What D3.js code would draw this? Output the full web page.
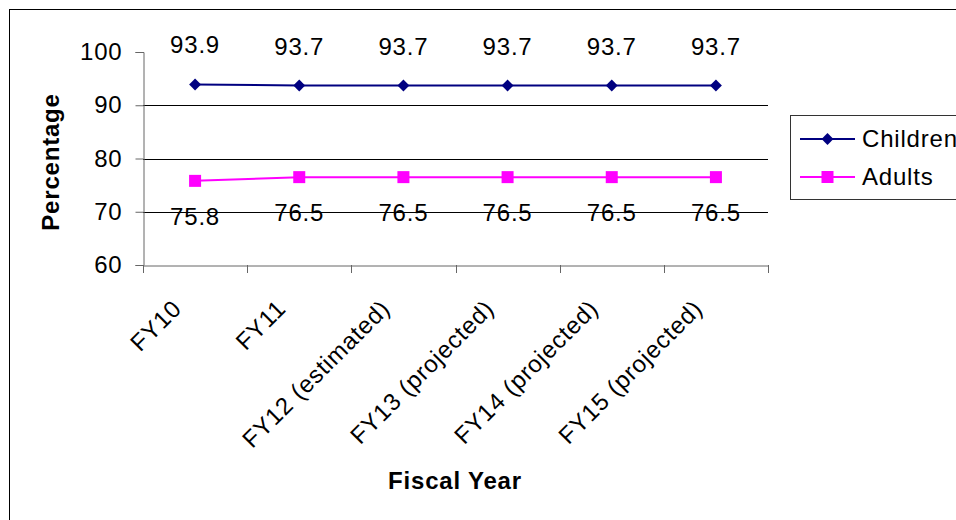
<!DOCTYPE html>
<html>
<head>
<meta charset="utf-8">
<script src="https://cdn.jsdelivr.net/npm/d3@7"></script>
<style>
  body { margin: 0; background: #fff; }
  text { font-family: "Liberation Sans", Arial, sans-serif; fill: #000; letter-spacing: 0.8px; }
</style>
</head>
<body>
<svg id="chart" width="956" height="520"></svg>
<script>
const years = ["FY10", "FY11", "FY12 (estimated)", "FY13 (projected)", "FY14 (projected)", "FY15 (projected)"]
const children = [93.9, 93.7, 93.7, 93.7, 93.7, 93.7]
const adults = [75.8, 76.5, 76.5, 76.5, 76.5, 76.5]
const yTicks = [60, 70, 80, 90, 100]
const seriesNames = ["Children", "Adults"]

const svg = d3.select('#chart')

// outer frame (runs off the right and bottom edges)
svg.append('rect')
    .attr('x', 9.5).attr('y', 9.5)
    .attr('width', 980).attr('height', 540)
    .attr('fill', 'none').attr('stroke', '#000').attr('stroke-width', 1)

const x = d3.scaleBand().domain(years).range([143, 768])
const y = d3.scaleLinear().domain([60, 100]).range([265, 52])

// gridlines
svg.append('g')
    .selectAll('line')
    .data(yTicks.filter(t => t > 60 && t < 100))
    .join('line')
    .attr('x1', 143).attr('x2', 768)
    .attr('y1', d => Math.round(y(d)) + 0.5).attr('y2', d => Math.round(y(d)) + 0.5)
    .attr('stroke', '#000')

// y axis
const yAxis = svg.append('g')
    .attr('transform', 'translate(143.5,0)')
    .call(d3.axisLeft(y).tickValues(yTicks).tickSize(8).tickPadding(13))
yAxis.select('.domain').attr('stroke', '#666')
yAxis.selectAll('.tick line').attr('stroke', '#666')
yAxis.selectAll('.tick text').style('font-size', '24px').attr('fill', '#000')

// x axis
const xAxis = svg.append('g')
    .attr('transform', 'translate(0,265.5)')
    .call(d3.axisBottom(x).tickSize(0).tickFormat(''))
xAxis.select('.domain').attr('stroke', '#666')
svg.append('g')
    .selectAll('line')
    .data(d3.range(years.length + 1))
    .join('line')
    .attr('x1', i => Math.round(143 + i * x.step()) + 0.5)
    .attr('x2', i => Math.round(143 + i * x.step()) + 0.5)
    .attr('y1', 265).attr('y2', 273)
    .attr('stroke', '#666')

// rotated category labels
svg.append('g')
    .selectAll('text')
    .data(years)
    .join('text')
    .attr('transform', d => `translate(${x(d) + x.bandwidth() / 2 - 12},${310}) rotate(-45)`)
    .attr('text-anchor', 'end')
    .style('font-size', '24px')
    .text(d => d)

// axis titles
svg.append('text')
    .attr('transform', 'translate(59,162) rotate(-90)')
    .attr('text-anchor', 'middle')
    .style('font-size', '24px').style('font-weight', 'bold')
    .text('Percentage')

svg.append('text')
    .attr('x', 455).attr('y', 489)
    .attr('text-anchor', 'middle')
    .style('font-size', '24px').style('font-weight', 'bold')
    .text('Fiscal Year')

const cx = d => x(d) + x.bandwidth() / 2
const line = d3.line().x(d => cx(d.year)).y(d => y(d.v))

const childData = years.map((yr, i) => ({year: yr, v: children[i]}))
const adultData = years.map((yr, i) => ({year: yr, v: adults[i]}))

// children line
svg.append('path')
    .datum(childData)
    .attr('d', line)
    .attr('fill', 'none').attr('stroke', '#000080').attr('stroke-width', 2)
svg.append('g')
    .selectAll('path')
    .data(childData)
    .join('path')
    .attr('d', d3.symbol(d3.symbolDiamond2, 90))
    .attr('transform', d => `translate(${cx(d.year)},${y(d.v)})`)
    .attr('fill', '#000080')

// adults line
svg.append('path')
    .datum(adultData)
    .attr('d', line)
    .attr('fill', 'none').attr('stroke', '#ff00ff').attr('stroke-width', 2)
svg.append('g')
    .selectAll('rect')
    .data(adultData)
    .join('rect')
    .attr('x', d => cx(d.year) - 6).attr('y', d => y(d.v) - 6)
    .attr('width', 12).attr('height', 12)
    .attr('fill', '#ff00ff')

// data labels
svg.append('g')
    .selectAll('text')
    .data(childData)
    .join('text')
    .attr('x', d => cx(d.year)).attr('y', d => y(d.v) - 31)
    .attr('text-anchor', 'middle')
    .style('font-size', '24px')
    .text(d => d.v.toFixed(1))

svg.append('g')
    .selectAll('text')
    .data(adultData)
    .join('text')
    .attr('x', d => cx(d.year)).attr('y', d => y(d.v) + 44)
    .attr('text-anchor', 'middle')
    .style('font-size', '24px')
    .text(d => d.v.toFixed(1))

// legend
const legend = svg.append('g')
legend.append('rect')
    .attr('x', 790.5).attr('y', 115.5)
    .attr('width', 200).attr('height', 84)
    .attr('fill', '#fff').attr('stroke', '#333')

const legendRows = legend.selectAll('g')
    .data(seriesNames)
    .join('g')
    .attr('transform', (d, i) => `translate(0,${139 + i * 38})`)
legendRows.append('line')
    .attr('x1', 800).attr('x2', 855)
    .attr('stroke', (d, i) => i === 0 ? '#000080' : '#ff00ff').attr('stroke-width', 2)
legendRows.filter((d, i) => i === 0).append('path')
    .attr('d', d3.symbol(d3.symbolDiamond2, 90))
    .attr('transform', 'translate(827.5,0)')
    .attr('fill', '#000080')
legendRows.filter((d, i) => i === 1).append('rect')
    .attr('x', 821.5).attr('y', -6).attr('width', 12).attr('height', 12)
    .attr('fill', '#ff00ff')
legendRows.append('text')
    .attr('x', 862).attr('dy', '0.35em')
    .style('font-size', '24px')
    .text(d => d)
</script>
</body>
</html>
